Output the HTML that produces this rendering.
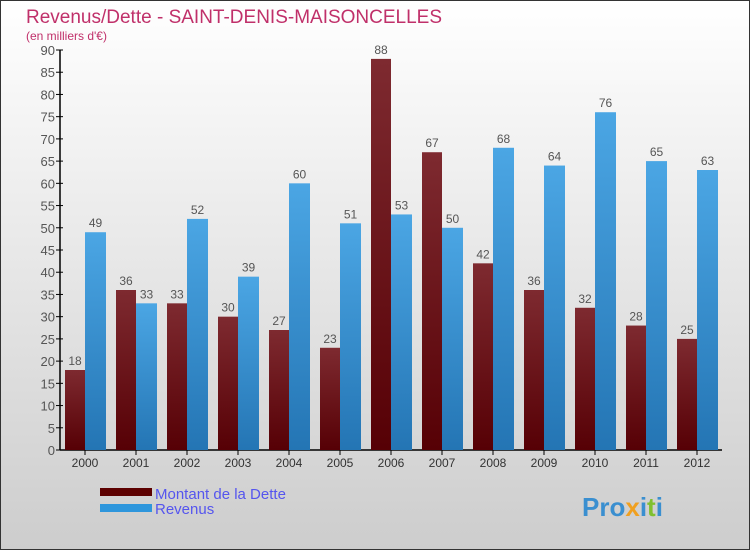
<!DOCTYPE html>
<html><head><meta charset="utf-8"><style>
body{margin:0;width:750px;height:550px;overflow:hidden;font-family:"Liberation Sans",sans-serif}
</style></head><body>
<svg width="750" height="550" xmlns="http://www.w3.org/2000/svg">
<defs>
<linearGradient id="bg" x1="0" y1="0" x2="0" y2="1"><stop offset="0" stop-color="#ffffff"/><stop offset="1" stop-color="#cdcdcd"/></linearGradient>
<linearGradient id="gd" x1="0" y1="0" x2="0" y2="1"><stop offset="0" stop-color="#7e2a30"/><stop offset="1" stop-color="#560005"/></linearGradient>
<linearGradient id="gr" x1="0" y1="0" x2="0" y2="1"><stop offset="0" stop-color="#4ba6e4"/><stop offset="1" stop-color="#2475b4"/></linearGradient>
</defs>
<rect x="0.5" y="0.5" width="749" height="549" fill="url(#bg)" stroke="#333"/>
<text x="26" y="23" font-size="19" fill="#c0306a">Revenus/Dette - SAINT-DENIS-MAISONCELLES</text>
<text x="26" y="40" font-size="12" fill="#c0306a">(en milliers d'€)</text>
<g id="axes"></g>
<g id="bars"></g>
<rect x="100" y="488" width="52" height="8" fill="#5c0000"/>
<rect x="100" y="504" width="52" height="8" fill="#2e96dc"/>
<text x="155" y="499" font-size="15" fill="#5555ee">Montant de la Dette</text>
<text x="155" y="514" font-size="15" fill="#5555ee">Revenus</text>
<text x="582" y="516" font-size="26" font-weight="bold" fill="#3a8fd0">Pro<tspan fill="#f0a020">x</tspan><tspan fill="#3a8fd0">i</tspan><tspan fill="#80c030">t</tspan><tspan fill="#3a8fd0">i</tspan></text>
</svg>
<script>
const years=["2000","2001","2002","2003","2004","2005","2006","2007","2008","2009","2010","2011","2012"];
const dette=[18,36,33,30,27,23,88,67,42,36,32,28,25];
const revenus=[49,33,52,39,60,51,53,50,68,64,76,65,63];
const yTicks=[0,5,10,15,20,25,30,35,40,45,50,55,60,65,70,75,80,85,90];
const NS="http://www.w3.org/2000/svg";
const y0=450,yTop=50,yMax=90;
function yS(v){return y0-(v/yMax)*(y0-yTop);}
function xC(i){return 85+i*51;}
function mk(tag,attrs,parent){const e=document.createElementNS(NS,tag);for(const k in attrs)e.setAttribute(k,attrs[k]);parent.appendChild(e);return e;}
const ax=document.getElementById('axes'),bg=document.getElementById('bars');
let l=mk('line',{x1:60,y1:yTop,x2:60,y2:y0,stroke:'#000','stroke-width':1.5},ax);


l=mk('line',{x1:60,y1:y0,x2:722,y2:y0,stroke:'#000','stroke-width':1.5},ax);


yTicks.forEach(v=>{
 const t=mk('line',{x1:56,x2:63,y1:yS(v),y2:yS(v),stroke:'#000'},ax);
 
 
 const tx=mk('text',{x:55,y:yS(v)+5,'text-anchor':'end','font-size':13,fill:'#555'},ax);
 tx.textContent=v;
 
 
});
years.forEach((yr,i)=>{
 const c=xC(i);
 const t=mk('line',{x1:c,x2:c,y1:y0,y2:y0+5,stroke:'#000'},ax);
 
 
 const tx=mk('text',{x:c,y:y0+17,'text-anchor':'middle','font-size':12,fill:'#333'},ax);
 tx.textContent=yr;
 
 
 const b1=mk('rect',{x:c-20,y:yS(dette[i]),width:20,height:y0-yS(dette[i]),fill:'url(#gd)'},bg);
 
 
 const b2=mk('rect',{x:c,y:yS(revenus[i]),width:21,height:y0-yS(revenus[i]),fill:'url(#gr)'},bg);
 
 
 const v1=mk('text',{x:c-10,y:yS(dette[i])-5,'text-anchor':'middle','font-size':12,fill:'#555'},bg);
 v1.textContent=dette[i];
 
 
 const v2=mk('text',{x:c+10.5,y:yS(revenus[i])-5,'text-anchor':'middle','font-size':12,fill:'#555'},bg);
 v2.textContent=revenus[i];
 
 
});
</script>
</body></html>
